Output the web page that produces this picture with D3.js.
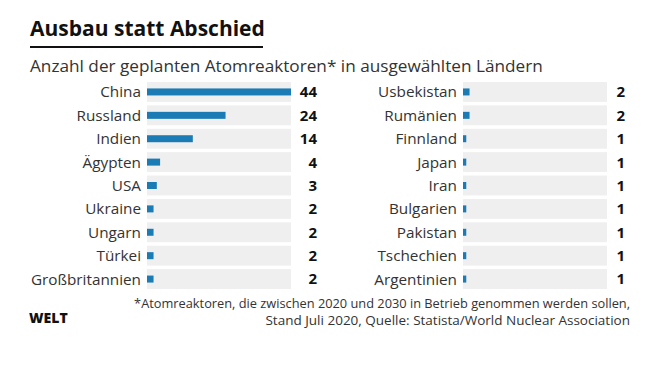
<!DOCTYPE html>
<html>
<head>
<meta charset="utf-8">
<script src="https://cdn.jsdelivr.net/npm/d3@7"></script>
<style>
  body { margin: 0; background: #fff; }
  svg text { font-family: "Open Sans", sans-serif; fill: #333; }
</style>
</head>
<body>
<svg id="chart" width="645" height="375"></svg>
<script>
// Data
var leftCountries = ['China', 'Russland', 'Indien', 'Ägypten', 'USA', 'Ukraine', 'Ungarn', 'Türkei', 'Großbritannien'];
var leftValues = [44, 24, 14, 4, 3, 2, 2, 2, 2];
var rightCountries = ['Usbekistan', 'Rumänien', 'Finnland', 'Japan', 'Iran', 'Bulgarien', 'Pakistan', 'Tschechien', 'Argentinien'];
var rightValues = [2, 2, 1, 1, 1, 1, 1, 1, 1];

var svg = d3.select('#chart');

// Title
svg.append('text')
    .attr('x', 30)
    .attr('y', 36)
    .style('font-size', '21px')
    .style('font-weight', 'bold')
    .style('fill', '#111')
    .text('Ausbau statt Abschied');
svg.append('rect')
    .attr('x', 30)
    .attr('y', 46)
    .attr('width', 233)
    .attr('height', 2)
    .attr('fill', '#111');

svg.append('text')
    .attr('x', 30)
    .attr('y', 72)
    .style('font-size', '17.2px')
    .text('Anzahl der geplanten Atomreaktoren* in ausgewählten Ländern');

var barWidth = 144;
var xScale = d3.scaleLinear().domain([0, 44]).range([0, barWidth]);

function drawPanel(names, values, left, valueX) {
    var data = names.map((n, i) => ({name: n, value: values[i]}));

    var yScale = d3.scaleBand()
        .domain(names)
        .range([82, 82 + 23 * names.length])
        .paddingInner(0.15)
        .paddingOuter(0);

    var g = svg.append('g')
        .attr('transform', 'translate(' + left + ',0)');

    var rows = g.selectAll('g.row')
        .data(data)
        .enter()
        .append('g')
        .attr('class', 'row')
        .attr('transform', d => 'translate(0,' + yScale(d.name) + ')');

    rows.append('rect')
        .attr('x', 0)
        .attr('width', barWidth)
        .attr('height', yScale.bandwidth())
        .attr('fill', '#efefef');

    rows.append('rect')
        .attr('x', 0)
        .attr('y', yScale.bandwidth() / 2 - 3.5)
        .attr('width', d => xScale(d.value))
        .attr('height', 7)
        .attr('fill', '#1a7bb5');

    rows.append('text')
        .attr('x', -6)
        .attr('y', yScale.bandwidth() / 2)
        .attr('dy', '0.36em')
        .attr('text-anchor', 'end')
        .style('font-size', '15.3px')
        .text(d => d.name);

    rows.append('text')
        .attr('x', valueX - left)
        .attr('y', yScale.bandwidth() / 2)
        .attr('dy', '0.36em')
        .attr('text-anchor', 'end')
        .style('font-size', '15px')
        .style('font-weight', 'bold')
        .style('fill', '#111')
        .text(d => d.value);
}

drawPanel(leftCountries, leftValues, 147, 317);
drawPanel(rightCountries, rightValues, 463, 625);

// Footer
svg.append('text')
    .attr('x', 29)
    .attr('y', 323)
    .style('font-size', '14px')
    .style('font-weight', '800')
    .style('fill', '#111')
    .text('WELT');

svg.append('text')
    .attr('x', 630)
    .attr('y', 308)
    .attr('text-anchor', 'end')
    .style('font-size', '12.8px')
    .text('*Atomreaktoren, die zwischen 2020 und 2030 in Betrieb genommen werden sollen,');
svg.append('text')
    .attr('x', 630)
    .attr('y', 325)
    .attr('text-anchor', 'end')
    .style('font-size', '13.5px')
    .text('Stand Juli 2020, Quelle: Statista/World Nuclear Association');
</script>
</body>
</html>
